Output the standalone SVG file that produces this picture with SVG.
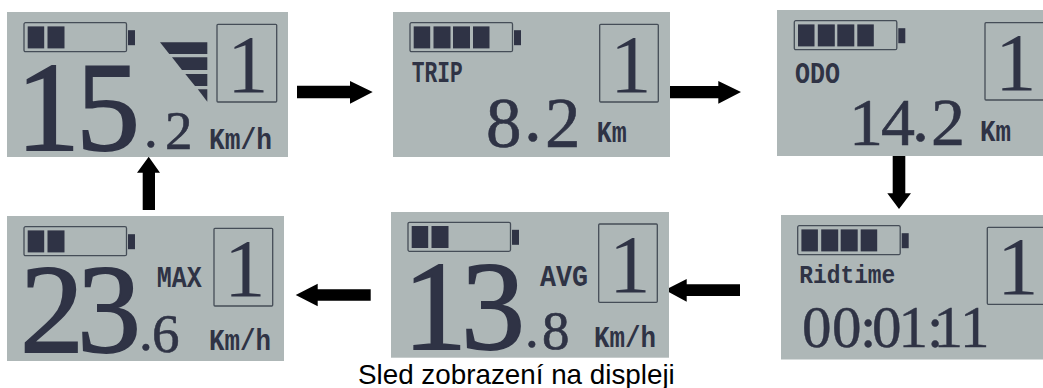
<svg xmlns="http://www.w3.org/2000/svg" xmlns:xlink="http://www.w3.org/1999/xlink" width="1043" height="388" viewBox="0 0 1043 388">
<style>
.p{fill:#aeb7b7}
.f{fill:none;stroke:#454d57;stroke-width:1.3}
.c,.w{fill:#2f3345}
.a{fill:#000}
text{fill:#2f3345}
.b{font-family:"Liberation Serif",serif;font-size:128px;stroke:#2f3345;stroke-width:1.8}
.s{font-family:"Liberation Serif",serif;font-size:55px;stroke:#2f3345;stroke-width:.6}
.l{font-family:"Liberation Serif",serif;font-size:71px;stroke:#2f3345;stroke-width:.6}
.k{font-family:"Liberation Serif",serif;font-size:68px;stroke:#2f3345;stroke-width:.6}
.t{font-family:"Liberation Serif",serif;font-size:59px;stroke:#2f3345;stroke-width:.4}
.m{font-family:"Liberation Mono",monospace;font-weight:bold;font-size:29px}
.one{font-family:"Liberation Serif",serif;font-size:83px}
.cap{font-family:"Liberation Sans",Arial,sans-serif;font-size:27.8px;fill:#000}
</style>
<defs>
<g id="bat"><rect class="f" x="0" y="0" width="102.5" height="29" rx="1.5"/><rect class="c" x="104" y="7.5" width="7" height="15"/><rect class="c" x="3.7" y="3.7" width="16.5" height="22"/><rect class="c" x="23.5" y="3.7" width="17" height="22"/></g>
<g id="cells"><rect class="c" x="43" y="3.7" width="17" height="22"/><rect class="c" x="63" y="3.7" width="16.5" height="22"/></g>
</defs>
<g id="connectors">
<polygon class="a" points="297,85.7 350,85.7 350,81 372.7,92 350,103.7 350,98.3 297,98.3"/>
<polygon class="a" points="665,86 718.3,86 718.3,81 741,92 718.3,103.7 718.3,98.3 665,98.3"/>
<polygon class="a" points="892.7,155.7 905.3,155.7 905.3,193.3 911,193.3 899,209 887.3,193.3 892.7,193.3"/>
<polygon class="a" points="740,284.3 686.7,284.3 686.7,279 665,290 686.7,301.7 686.7,296 740,296"/>
<polygon class="a" points="370.7,289.3 317.7,289.3 317.7,283.7 295.7,295 317.7,306.3 317.7,300.7 370.7,300.7"/>
<polygon class="a" points="142.7,210 155,210 155,172.7 160,172.7 148.7,156.7 137,172.7 142.7,172.7"/>
</g>
<g id="display-speed">
<rect class="p" x="7" y="12" width="281" height="145"/>
<use xlink:href="#bat" href="#bat" x="24" y="22.7"/>
<polygon class="w" points="160,42.3 207.3,42.3 207.3,54 169.3,54"/><polygon class="w" points="172,57.3 207.3,57.3 207.3,70 182,70"/><polygon class="w" points="185.3,74 207.3,74 207.3,86 195,86"/><polygon class="w" points="197.8,89.3 207.3,89.3 207.3,101.7"/>
<rect class="f" x="217" y="24.3" width="59.7" height="77.7" rx="1"/>
<text class="one" x="227" y="92">1</text>
<text y="150"><tspan class="b" x="16">1</tspan><tspan class="b" x="76">5</tspan><tspan class="s" x="144" y="147">.</tspan><tspan class="s" x="165" y="149">2</tspan></text>
<text class="m" x="209" y="149" textLength="63" lengthAdjust="spacingAndGlyphs">Km/h</text>
</g>
<g id="display-trip">
<rect class="p" x="393" y="12" width="277" height="145"/>
<use xlink:href="#bat" href="#bat" x="410" y="22.7"/><use xlink:href="#cells" href="#cells" x="410" y="22.7"/>
<rect class="f" x="599.7" y="24.3" width="58.6" height="77.7" rx="1"/>
<text class="one" x="610" y="92">1</text>
<text class="m" x="411.7" y="82" textLength="51" lengthAdjust="spacingAndGlyphs">TRIP</text>
<text class="l" y="147"><tspan x="486">8</tspan><tspan x="524" y="141">.</tspan><tspan x="545" y="147">2</tspan></text>
<text class="m" x="596.7" y="141.7" textLength="30" lengthAdjust="spacingAndGlyphs">Km</text>
</g>
<g id="display-odo">
<rect class="p" x="777" y="10" width="266" height="146"/>
<use xlink:href="#bat" href="#bat" x="794.3" y="20.7"/><use xlink:href="#cells" href="#cells" x="794.3" y="20.7"/>
<rect class="f" x="985" y="22.7" width="60" height="77.3" rx="1"/>
<text class="one" x="995" y="90">1</text>
<text class="m" x="795" y="83" textLength="45" lengthAdjust="spacingAndGlyphs">ODO</text>
<text class="k" y="145"><tspan x="849">1</tspan><tspan x="881">4</tspan><tspan x="912" y="141">.</tspan><tspan x="931" y="145">2</tspan></text>
<text class="m" x="980" y="141" textLength="31" lengthAdjust="spacingAndGlyphs">Km</text>
</g>
<g id="display-ridtime">
<rect class="p" x="781" y="215" width="262" height="144.5"/>
<use xlink:href="#bat" href="#bat" x="797.7" y="225.7"/><use xlink:href="#cells" href="#cells" x="797.7" y="225.7"/>
<rect class="f" x="987.3" y="227.3" width="58" height="77" rx="1"/>
<text class="one" x="997" y="294">1</text>
<text class="m" x="799.3" y="283" style="font-size:26px" textLength="96" lengthAdjust="spacingAndGlyphs">Ridtime</text>
<text class="t" y="346.5" x="802 832 860 872 898.5 927 933.5 960">00:01:11</text>
</g>
<g id="display-avg">
<rect class="p" x="391" y="212" width="278" height="145.7"/>
<use xlink:href="#bat" href="#bat" x="408" y="222.3"/>
<rect class="f" x="598.7" y="224" width="58.6" height="78.3" rx="1"/>
<text class="one" x="609" y="291.5">1</text>
<text class="m" x="540" y="286" textLength="48" lengthAdjust="spacingAndGlyphs">AVG</text>
<text y="349"><tspan class="b" x="403">1</tspan><tspan class="b" x="461">3</tspan><tspan class="s" x="525" y="347">.</tspan><tspan class="s" x="542" y="349">8</tspan></text>
<text class="m" x="594" y="346.5" textLength="62" lengthAdjust="spacingAndGlyphs">Km/h</text>
</g>
<g id="display-max">
<rect class="p" x="7" y="216" width="277" height="145"/>
<use xlink:href="#bat" href="#bat" x="24" y="226.7"/>
<rect class="f" x="214" y="228.3" width="58.7" height="77.7" rx="1"/>
<text class="one" x="224" y="296">1</text>
<text class="m" x="156.7" y="287" textLength="45" lengthAdjust="spacingAndGlyphs">MAX</text>
<text y="352"><tspan class="b" x="20">2</tspan><tspan class="b" x="77">3</tspan><tspan class="s" x="139" y="350">.</tspan><tspan class="s" x="152" y="352">6</tspan></text>
<text class="m" x="209" y="350" textLength="62" lengthAdjust="spacingAndGlyphs">Km/h</text>
</g>
<text class="cap" x="358" y="384">Sled zobrazení na displeji</text>
</svg>
